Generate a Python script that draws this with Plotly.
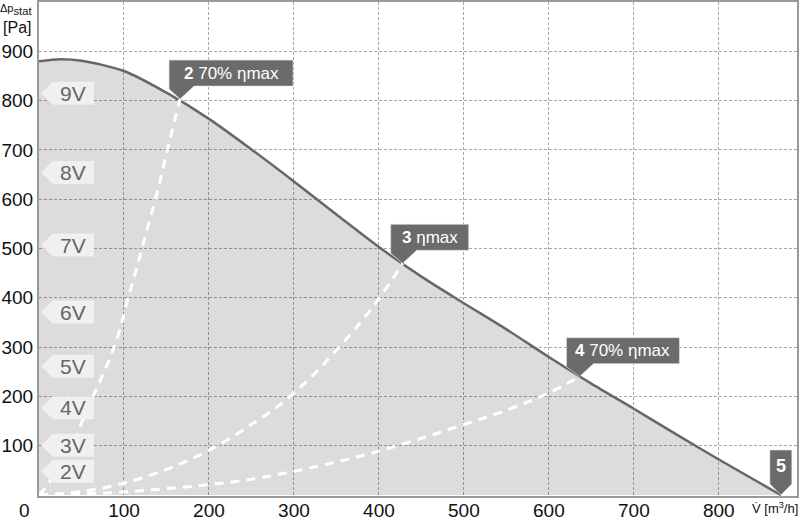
import plotly.graph_objects as go

# Kennlinie (Volumenstrom / statischer Druck)
flow = [0, 25, 50, 100, 150, 200, 250, 300, 350, 400, 450, 500, 550, 600, 650, 700, 750, 800, 873]
pressure = [880, 884, 881, 860, 816, 763, 701, 636, 569, 503, 443, 389, 336, 280, 226, 175, 123, 72, 0]

# Anlagenkennlinien (weiß gestrichelt)
sys2_flow = [0, 8, 22, 36, 48, 61, 72, 84, 95, 105, 115, 125, 137, 147, 156, 166]
sys2_p = [0, 16, 51, 91, 138, 190, 232, 280, 335, 400, 460, 525, 600, 670, 735, 803]
sys3_flow = [0, 50, 100, 150, 190, 220, 250, 275, 300, 325, 350, 375, 400, 428]
sys3_p = [0, 7, 24, 52, 82, 110, 143, 172, 207, 247, 294, 343, 398, 470]
sys4_flow = [0, 100, 150, 200, 250, 300, 350, 400, 450, 500, 550, 600, 636]
sys4_p = [0, 6, 13, 21, 32, 48, 67, 89, 115, 143, 172, 207, 240]

# Spannungsstufen
volt_labels = ["9V", "8V", "7V", "6V", "5V", "4V", "3V", "2V"]
volt_p = [815, 654, 507, 371, 261, 177, 101, 48]

# Betriebspunkte
point_flow = [166, 428, 636, 873]
point_p = [803, 470, 240, 0]
point_num = ["2", "3", "4", "5"]
point_text = [" 70% ηmax", " ηmax", " 70% ηmax", ""]

x_ticks = [100, 200, 300, 400, 500, 600, 700, 800]
y_ticks = [100, 200, 300, 400, 500, 600, 700, 800, 900]

FONT = "Liberation Sans, Arial, sans-serif"
DARK = "#6b6b6b"

fig = go.Figure()

fig.add_trace(go.Scatter(
    x=flow, y=pressure, mode="lines", line_shape="spline",
    line=dict(color="#676767", width=2.5, smoothing=0.8),
    fill="tozeroy", fillcolor="rgba(0,0,0,0.137)",
    hoverinfo="skip", showlegend=False
))

for xs, ys in [(sys2_flow, sys2_p), (sys3_flow, sys3_p), (sys4_flow, sys4_p)]:
    fig.add_trace(go.Scatter(
        x=xs, y=ys, mode="lines", line_shape="spline",
        line=dict(color="white", width=3, dash="9px,7px"),
        hoverinfo="skip", showlegend=False
    ))

shapes = []
annotations = []

# Spannungs-Fähnchen am linken Rand
for lab, p in zip(volt_labels, volt_p):
    shapes.append(dict(
        type="path", xref="x", yref="y", xsizemode="pixel", ysizemode="pixel",
        xanchor=0, yanchor=p,
        path="M 2,0 L 14,11.5 L 55,11.5 L 55,-11.5 L 14,-11.5 Z",
        fillcolor="#f0f0f0", line=dict(width=0), layer="above"
    ))
    annotations.append(dict(
        x=0, y=p, xref="x", yref="y", text=lab, showarrow=False,
        xshift=34, xanchor="center", yanchor="middle",
        font=dict(family=FONT, size=21, color="#666666")
    ))

# Betriebspunkt-Markierungen
box_w = [124, 78, 113]
box_l = [-11, -12, -13]
for i, (fx, fp) in enumerate(zip(point_flow, point_p)):
    if i < 3:
        l = box_l[i]
        r = l + box_w[i]
        path = f"M 0,0 L {l},10 L {l},39 L {r},39 L {r},13 L 14,13 Z"
        cx = (l + r) / 2
        cy = 26
        size = 17
    else:
        path = "M 0,0 L -11,11 L -11,45 L 11,45 L 11,11 Z"
        cx = 0
        cy = 29
        size = 18
    shapes.append(dict(
        type="path", xref="x", yref="y", xsizemode="pixel", ysizemode="pixel",
        xanchor=fx, yanchor=fp, path=path,
        fillcolor=DARK, line=dict(color="#e6e6e6", width=0.6), layer="above"
    ))
    annotations.append(dict(
        x=fx, y=fp, xref="x", yref="y",
        text=f"<b>{point_num[i]}</b>{point_text[i]}", showarrow=False,
        xshift=cx, yshift=cy, xanchor="center", yanchor="middle",
        font=dict(family=FONT, size=size, color="white")
    ))

# Achsbeschriftungen
annotations.append(dict(
    x=0, y=1, xref="paper", yref="paper", xanchor="right", yanchor="top",
    xshift=-5, yshift=2, align="right", showarrow=False,
    text="<span style='font-size:11px'>Δp</span><sub>stat</sub><br>[Pa]",
    font=dict(family=FONT, size=16, color="#111111")
))
annotations.append(dict(
    x=1, y=0, xref="paper", yref="paper", xanchor="right", yanchor="middle",
    xshift=3, yshift=-12, showarrow=False,
    text="V̇ [m<sup>3</sup>/h]",
    font=dict(family=FONT, size=13, color="#111111")
))
annotations.append(dict(
    x=0, y=0, xref="paper", yref="paper", xanchor="center", yanchor="top",
    xshift=-15, yshift=-2, showarrow=False, text="0",
    font=dict(family=FONT, size=19, color="#111111")
))

fig.update_layout(
    width=800, height=521,
    margin=dict(l=39, r=3, t=2, b=25),
    paper_bgcolor="white", plot_bgcolor="white",
    shapes=shapes, annotations=annotations,
    font=dict(family=FONT, size=19, color="#111111"),
)
fig.update_xaxes(
    range=[0, 892], tickvals=x_ticks, ticks="", automargin=False,
    ticklabelstandoff=-4,
    showgrid=True, gridcolor="#a8a8a8", gridwidth=1, griddash="3px,2px",
    showline=True, linecolor="#999999", linewidth=2, mirror=True,
    zeroline=False, fixedrange=True
)
fig.update_yaxes(
    range=[-2, 1000], tickvals=y_ticks, ticks="", automargin=False,
    showgrid=True, gridcolor="#a8a8a8", gridwidth=1, griddash="3px,2px",
    showline=True, linecolor="#999999", linewidth=2, mirror=True,
    zeroline=False, fixedrange=True
)

# Seitenrand entfernen, damit die Grafik genau ins Fenster passt
fig.write_html(
    "out.html",
    config={"displayModeBar": False},
    post_script="document.body.style.margin='0';document.body.style.overflow='hidden';"
)
